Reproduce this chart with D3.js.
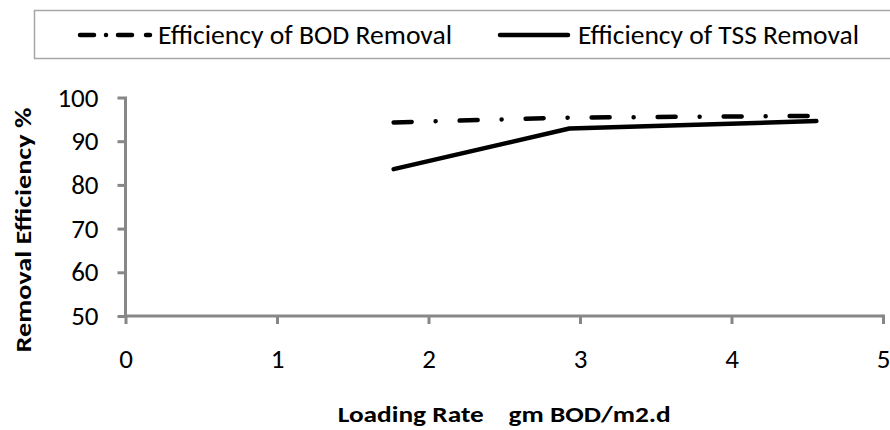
<!DOCTYPE html>
<html>
<head>
<meta charset="utf-8">
<script src="https://cdn.jsdelivr.net/npm/d3@7"></script>
<style>
  body { margin: 0; background: #fff; }
  svg { display: block; font-family: Carlito, "Liberation Sans Narrow", "Open Sans", sans-serif; }
</style>
</head>
<body>
<svg id="chart" width="890" height="430"></svg>
<script>
// chart values
const seriesNames = ["Efficiency of BOD Removal", "Efficiency of TSS Removal"];
const loadingRate = [1.77, 2.93, 4.56];
const bodRemoval = [94.3, 95.4, 95.8];
const tssRemoval = [83.6, 92.9, 94.6];
const xTicks = [0, 1, 2, 3, 4, 5];
const yTicks = [50, 60, 70, 80, 90, 100];

const svg = d3.select("#chart");
const margin = { top: 97.5, left: 125.5, right: 7, bottom: 114 };
const width = 890, height = 430;

const x = d3.scaleLinear().domain([0, 5]).range([margin.left, width - margin.right]);
const y = d3.scaleLinear().domain([50, 100]).range([height - margin.bottom, margin.top]);

const axisColor = "#878787";

// legend box (runs off the right edge like the original)
svg.append("rect")
  .attr("x", 34.5).attr("y", 10.5)
  .attr("width", 900).attr("height", 48)
  .attr("fill", "none")
  .attr("stroke", "#a6a6a6")
  .attr("stroke-width", 1.5);

const bodDash = "18,24,0.01,24";

const legendItems = [
  { name: seriesNames[0], dash: bodDash, x1: 80, x2: 150, tx: 158, tw: 294 },
  { name: seriesNames[1], dash: null, x1: 500, x2: 568, tx: 578, tw: 281 }
];

legendItems.forEach(d => {
  svg.append("line")
    .attr("x1", d.x1).attr("x2", d.x2)
    .attr("y1", 35).attr("y2", 35)
    .attr("stroke", "#000")
    .attr("stroke-width", 4.5)
    .attr("stroke-linecap", "round")
    .attr("stroke-dasharray", d.dash ? "14,12,0.01,12,14" : null);
  svg.append("text")
    .attr("x", d.tx).attr("y", 35)
    .attr("dy", "0.35em")
    .attr("textLength", d.tw)
    .attr("lengthAdjust", "spacingAndGlyphs")
    .style("font-size", "26px")
    .text(d.name);
});

// axes
const xAxis = svg.append("g")
  .attr("transform", `translate(0,${y(50)})`)
  .call(d3.axisBottom(x).tickValues(xTicks).tickSize(8).tickPadding(25).tickFormat(d3.format("d")));

const yAxis = svg.append("g")
  .attr("transform", `translate(${x(0)},0)`)
  .call(d3.axisLeft(y).tickValues(yTicks).tickSize(8).tickPadding(19).tickFormat(d3.format("d")));

[xAxis, yAxis].forEach(g => {
  g.select(".domain").attr("stroke", axisColor).attr("stroke-width", 3)
    .attr("d", g === xAxis ? `M${x(0)},0H${x(5)}` : `M0,${y(50)}V${y(100)}`);
  g.selectAll(".tick line").attr("stroke", axisColor).attr("stroke-width", 3);
  g.selectAll(".tick text").attr("fill", "#000").style("font-size", "27px");
});
xAxis.attr("font-family", null);
yAxis.attr("font-family", null);
yAxis.selectAll(".tick line").attr("x2", -8);
// top tick on y axis / last tick on x axis meet the axis end like the original cap
yAxis.selectAll(".tick").filter(d => d === 100).select("line").attr("x1", 1.5);
xAxis.selectAll(".tick").filter(d => d === 5).select("line").attr("y1", -1.5);

// series lines
const line = d3.line().x(d => x(d[0])).y(d => y(d[1]));

svg.append("path")
  .datum(loadingRate.map((v, i) => [v, tssRemoval[i]]))
  .attr("d", line)
  .attr("fill", "none")
  .attr("stroke", "#000")
  .attr("stroke-width", 4.5)
  .attr("stroke-linecap", "round")
  .attr("stroke-linejoin", "round");

svg.append("path")
  .datum(loadingRate.map((v, i) => [v, bodRemoval[i]]))
  .attr("d", line)
  .attr("fill", "none")
  .attr("stroke", "#000")
  .attr("stroke-width", 4.5)
  .attr("stroke-linecap", "round")
  .attr("stroke-linejoin", "round")
  .attr("stroke-dasharray", bodDash);

// axis titles
svg.append("text")
  .attr("x", (x(0) + x(5)) / 2).attr("y", 414)
  .attr("dy", "0.35em")
  .attr("text-anchor", "middle")
  .attr("textLength", 333)
  .attr("lengthAdjust", "spacingAndGlyphs")
  .style("font-size", "23px")
  .style("font-weight", "bold")
  .style("white-space", "pre")
  .text("Loading Rate    gm BOD/m2.d");

svg.append("text")
  .attr("transform", `translate(23,230) rotate(-90)`)
  .attr("dy", "0.35em")
  .attr("text-anchor", "middle")
  .attr("textLength", 245)
  .attr("lengthAdjust", "spacingAndGlyphs")
  .style("font-size", "23px")
  .style("font-weight", "bold")
  .text("Removal Efficiency %");
</script>
</body>
</html>
